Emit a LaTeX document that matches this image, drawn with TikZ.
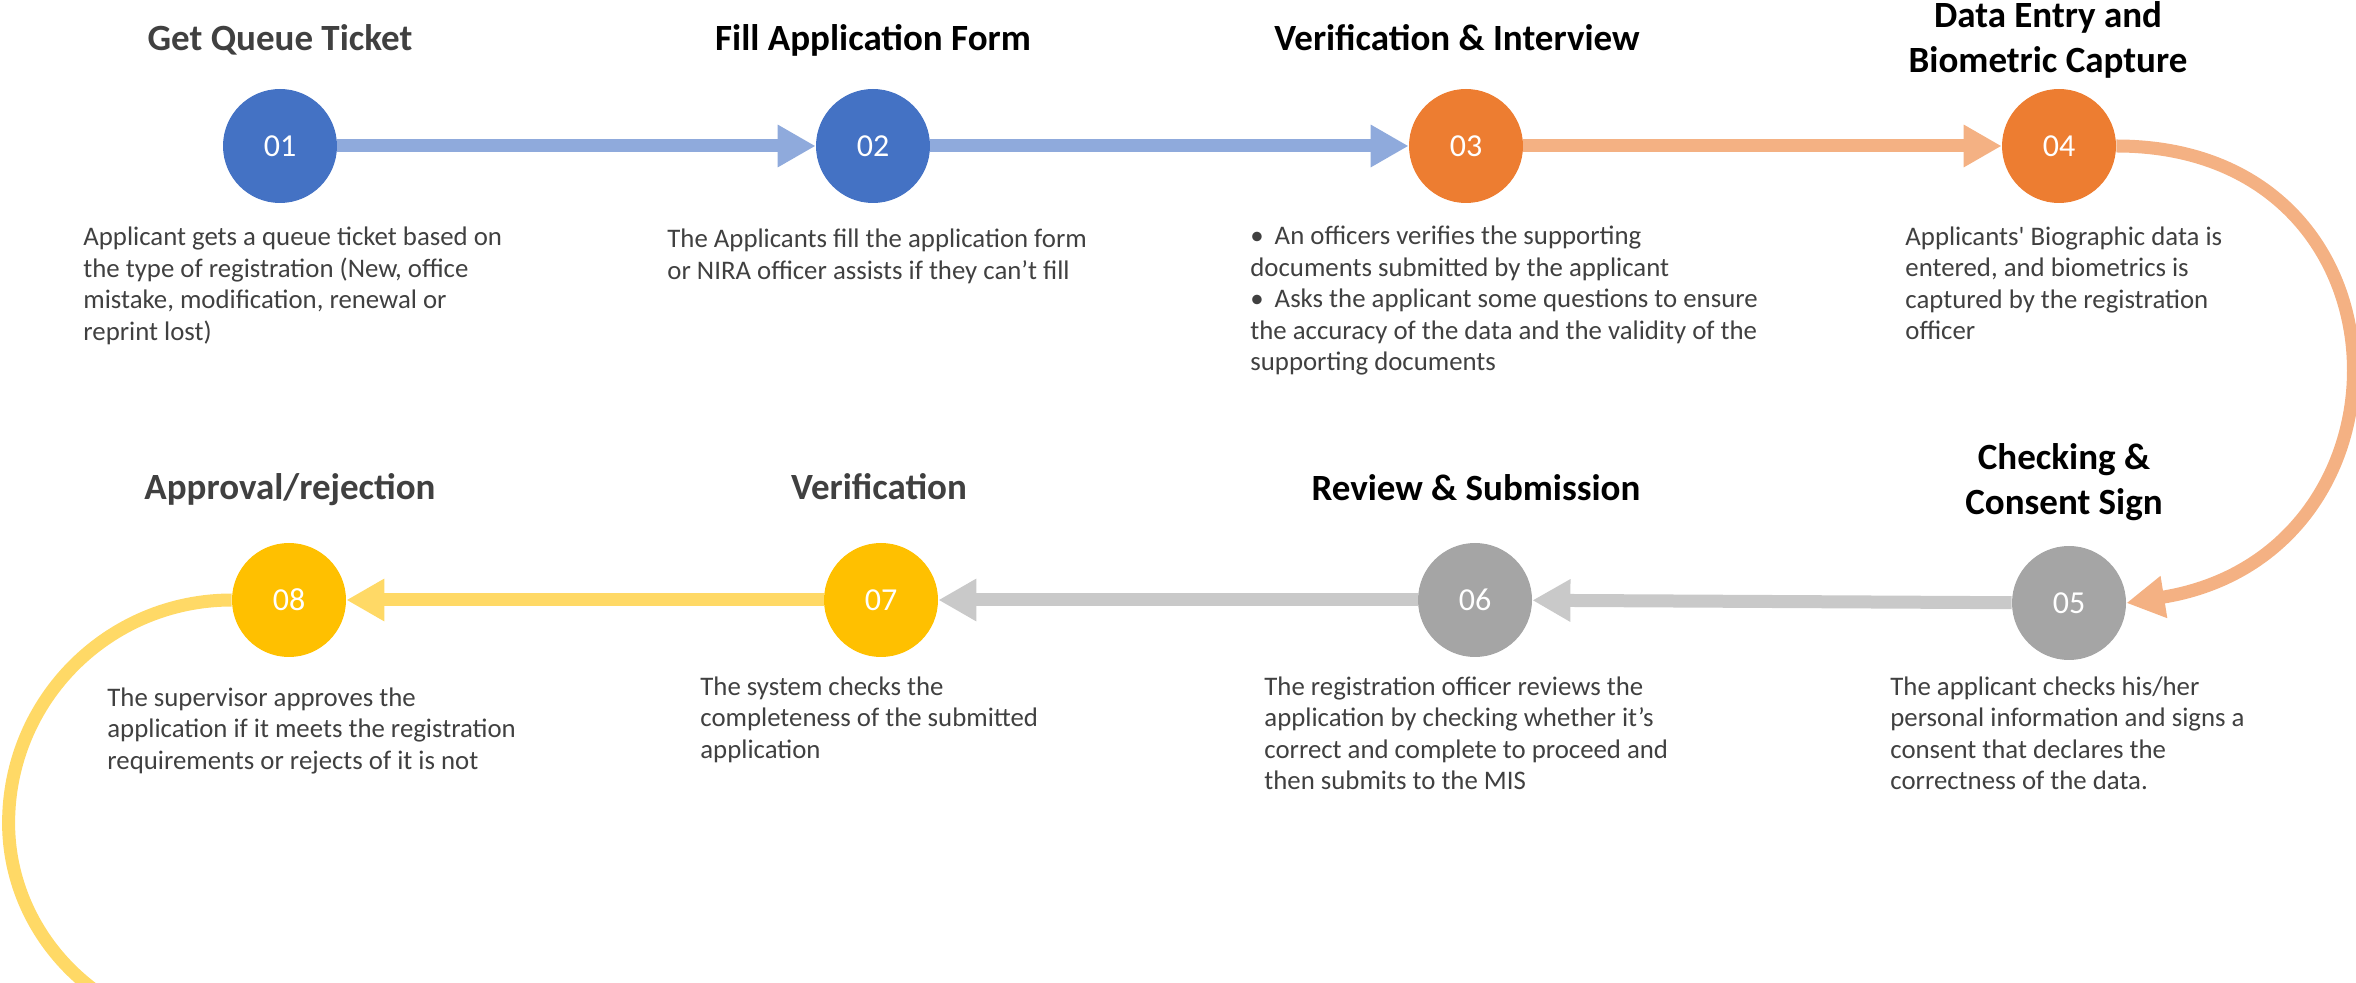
\documentclass[tikz,border=0pt]{standalone}
\usepackage{fontspec}
\setmainfont{Carlito}[Ligatures=TeXOff]
\usetikzlibrary{arrows.meta}
\definecolor{blaukreis}{HTML}{4472C4}
\definecolor{blaupfeil}{HTML}{8FAADC}
\definecolor{orangekreis}{HTML}{ED7D31}
\definecolor{orangepfeil}{HTML}{F4B183}
\definecolor{graukreis}{HTML}{A5A5A5}
\definecolor{graupfeil}{HTML}{C9C9C9}
\definecolor{gelbkreis}{HTML}{FFC000}
\definecolor{gelbpfeil}{HTML}{FFD966}
\definecolor{grautext}{HTML}{404040}
\begin{document}
\begin{tikzpicture}[x=0.5pt,y=0.5pt,line join=round,>={Triangle[width=20pt,length=19pt]},
	kreis/.style = {circle, minimum size = 57pt, inner sep = 0pt, text = white, font = \fontsize{16}{19}\selectfont},
	titel/.style = {anchor = base, align = center, inner sep = 0pt, font = \fontsize{18.5}{22.5}\selectfont\bfseries},
	info/.style = {anchor = base west, align = left, inner sep = 0pt, text = grautext, font = \fontsize{13.4}{15.75}\selectfont},
	pfeil/.style = {line width = 6.5pt}]
	% Rahmen
	\useasboundingbox (0,0) rectangle (2356,-983);
	\clip (0,0) rectangle (2356,-983);
	% Schritte
	\node [kreis, fill = blaukreis] (n01) at (280,-146) {01};
	\node [kreis, fill = blaukreis] (n02) at (873,-146) {02};
	\node [kreis, fill = orangekreis] (n03) at (1466,-146) {03};
	\node [kreis, fill = orangekreis] (n04) at (2059,-146) {04};
	\node [kreis, fill = graukreis] (n05) at (2069,-603) {05};
	\node [kreis, fill = graukreis] (n06) at (1475,-600) {06};
	\node [kreis, fill = gelbkreis] (n07) at (881,-600) {07};
	\node [kreis, fill = gelbkreis] (n08) at (289,-600) {08};
	% Pfeile
	\draw [pfeil, blaupfeil, ->] (n01) -- (n02);
	\draw [pfeil, blaupfeil, ->] (n02) -- (n03);
	\draw [pfeil, orangepfeil, ->] (n03) -- (n04);
	\draw [pfeil, orangepfeil, ->] (n04.east) .. controls +(305,0) and +(301,48) .. (n05.east);
	\draw [pfeil, graupfeil, ->] (n05) -- (n06);
	\draw [pfeil, graupfeil, ->] (n06) -- (n07);
	\draw [pfeil, gelbpfeil, ->] (n07) -- (n08);
	\draw [pfeil, gelbpfeil] (n08.west) arc [start angle = 90, end angle = 180, radius = 223]
		arc [start angle = 180, end angle = 240, x radius = 223, y radius = 212];
	% Titel (bei zwei Zeilen: Grundlinie der letzten Zeile)
	\node [titel, text = grautext] (t01) at (280,-51) {Get Queue Ticket};
	\node [titel] (t02) at (873,-51) {Fill Application Form};
	\node [titel] (t03) at (1457,-51) {Verification \& Interview};
	\node [titel] (t04) at (2048,-73) {Data Entry and\\Biometric Capture};
	\node [titel] (t05) at (2064,-515) {Checking \&\\Consent Sign};
	\node [titel] (t06) at (1476,-501) {Review \& Submission};
	\node [titel, text = grautext] (t07) at (879,-500) {Verification};
	\node [titel, text = grautext] (t08) at (290,-500) {Approval/rejection};
	% Beschreibungen (Grundlinie der letzten Zeile)
	\node [info] (d01) at (83,-340.5) {Applicant gets a queue ticket based on\\the type of registration (New, office\\mistake, modification, renewal or\\reprint lost)};
	\node [info] (d02) at (667,-279.5) {The Applicants fill the application form\\or NIRA officer assists if they can’t fill};
	\node [info] (d03) at (1250,-371) {•\hspace{5.5pt}An officers verifies the supporting\\documents submitted by the applicant\\•\hspace{5.5pt}Asks the applicant some questions to ensure\\the accuracy of the data and the validity of the\\supporting documents};
	\node [info] (d04) at (1905,-340) {Applicants' Biographic data is\\entered, and biometrics is\\captured by the registration\\officer};
	\node [info] (d05) at (1890,-789.5) {The applicant checks his/her\\personal information and signs a\\consent that declares the\\correctness of the data.};
	\node [info] (d06) at (1264,-789.5) {The registration officer reviews the\\application by checking whether it’s\\correct and complete to proceed and\\then submits to the MIS};
	\node [info] (d07) at (700,-758) {The system checks the\\completeness of the submitted\\application};
	\node [info] (d08) at (107,-769) {The supervisor approves the\\application if it meets the registration\\requirements or rejects of it is not};
\end{tikzpicture}
\end{document}
